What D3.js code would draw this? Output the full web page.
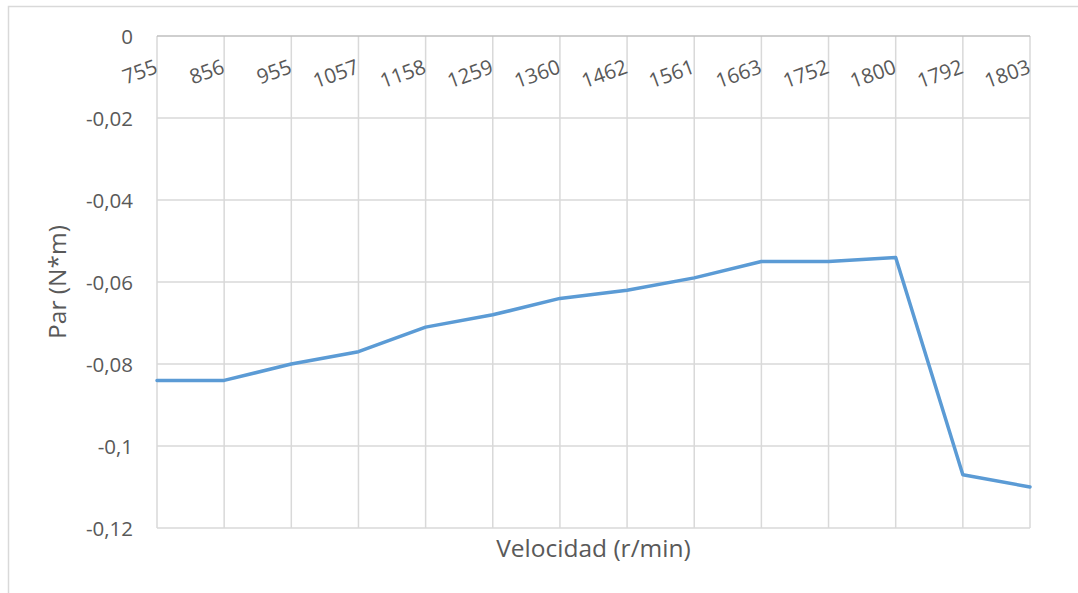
<!DOCTYPE html>
<html>
<head>
<meta charset="utf-8">
<script src="https://cdn.jsdelivr.net/npm/d3@7"></script>
<style>
  html, body { margin: 0; padding: 0; background: #fff; }
  svg { display: block; font-family: "Open Sans", "Liberation Sans", sans-serif; }
</style>
</head>
<body>
<svg id="chart" width="1078" height="593"></svg>
<script>
// Speed categories (r/min) and measured torque (N*m)
const speeds = ["755", "856", "955", "1057", "1158", "1259", "1360", "1462", "1561", "1663", "1752", "1800", "1792", "1803"];
const torque = [-0.084, -0.084, -0.080, -0.077, -0.071, -0.068, -0.064, -0.062, -0.059, -0.055, -0.055, -0.054, -0.107, -0.110];
const yTicks = [0, -0.02, -0.04, -0.06, -0.08, -0.1, -0.12];

const xTitle = "Velocidad (r/min)";
const yTitle = "Par (N*m)";

const svg = d3.select("#chart");
const W = 1078, H = 593;
const m = { left: 157, right: 1030, top: 36, bottom: 528 };
const textColor = "#595959";
const gridColor = "#d9d9d9";

// chart area frame
svg.append("rect")
  .attr("x", 8.5).attr("y", 6.5)
  .attr("width", W + 20).attr("height", H + 20)
  .attr("fill", "#fff")
  .attr("stroke", "#d9d9d9")
  .attr("stroke-width", 1.5);

const x = d3.scalePoint().domain(speeds).range([m.left, m.right]).padding(0);
const y = d3.scaleLinear().domain([-0.12, 0]).range([m.bottom, m.top]);

// decimal comma, plain hyphen for the sign
const fmt = v => (v === 0 ? "0" : String(+v.toFixed(2)).replace(".", ","));

// horizontal gridlines
svg.append("g")
  .selectAll("line")
  .data(yTicks.filter(v => v !== 0))
  .join("line")
  .attr("x1", m.left).attr("x2", m.right)
  .attr("y1", d => y(d)).attr("y2", d => y(d))
  .attr("stroke", gridColor).attr("stroke-width", 1.5);

// vertical gridlines
svg.append("g")
  .selectAll("line")
  .data(speeds)
  .join("line")
  .attr("x1", d => x(d)).attr("x2", d => x(d))
  .attr("y1", m.top).attr("y2", m.bottom)
  .attr("stroke", gridColor).attr("stroke-width", 1.5);

// category axis sits at zero (top)
svg.append("line")
  .attr("x1", m.left).attr("x2", m.right)
  .attr("y1", y(0)).attr("y2", y(0))
  .attr("stroke", "#bfbfbf").attr("stroke-width", 1.5);

// y tick labels
svg.append("g")
  .selectAll("text")
  .data(yTicks)
  .join("text")
  .attr("x", 133)
  .attr("y", d => y(d))
  .attr("text-anchor", "end")
  .attr("dominant-baseline", "central")
  .attr("fill", textColor)
  .attr("font-size", 20.5)
  .text(d => fmt(d));

// category labels, rotated, placed below the zero axis
svg.append("g")
  .selectAll("text")
  .data(speeds)
  .join("text")
  .attr("transform", d => `translate(${x(d) - 1},65) rotate(-20)`)
  .attr("text-anchor", "end")
  .attr("dominant-baseline", "central")
  .attr("fill", textColor)
  .attr("font-size", 20.5)
  .text(d => d);

// torque line
const line = d3.line()
  .x((d, i) => x(speeds[i]))
  .y(d => y(d));

svg.append("path")
  .datum(torque)
  .attr("d", line)
  .attr("fill", "none")
  .attr("stroke", "#5b9bd5")
  .attr("stroke-width", 3.5)
  .attr("stroke-linejoin", "round")
  .attr("stroke-linecap", "round");

// axis titles
svg.append("text")
  .attr("x", (m.left + m.right) / 2)
  .attr("y", 557)
  .attr("text-anchor", "middle")
  .attr("fill", textColor)
  .attr("font-size", 24.5)
  .text(xTitle);

svg.append("text")
  .attr("transform", `translate(66,${(m.top + m.bottom) / 2}) rotate(-90)`)
  .attr("text-anchor", "middle")
  .attr("fill", textColor)
  .attr("font-size", 24.5)
  .text(yTitle);
</script>
</body>
</html>
